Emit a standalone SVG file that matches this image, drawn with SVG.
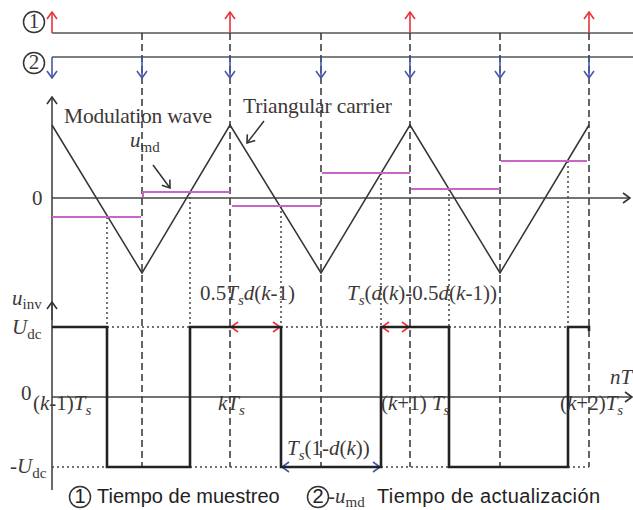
<svg xmlns="http://www.w3.org/2000/svg" width="633" height="510" viewBox="0 0 633 510">
<style>
.t{font-family:"Liberation Serif",serif;font-size:21px;fill:#3d3838}
.big{font-size:21.5px}
.i{font-style:italic}
.sub{font-size:15px}
.leg{font-family:"Liberation Sans",Arial,sans-serif;font-size:20px;fill:#222}
.ax{stroke:#444;stroke-width:1.6;fill:none}
.tl{stroke:#555;stroke-width:1.6;fill:none}
.dash{stroke:#333;stroke-width:1.5;stroke-dasharray:7,4;fill:none}
.dot{stroke:#444;stroke-width:1.5;stroke-dasharray:2,3;fill:none}
.tri{stroke:#333;stroke-width:1.5;fill:none}
.mod{stroke:#c865c8;stroke-width:2;fill:none}
.pwm{stroke:#222;stroke-width:2.6;fill:none}
.red{stroke:#e8333a;stroke-width:1.6;fill:none}
.blue{stroke:#4458a8;stroke-width:1.6;fill:none}
.circ{fill:none;stroke:#333;stroke-width:1.5}
</style>
<defs>
<marker id="mRed" viewBox="-1 -1 9 12" refX="7" refY="5" markerWidth="9" markerHeight="12" orient="auto-start-reverse" markerUnits="userSpaceOnUse"><path d="M0,0 L7,5 L0,10" fill="none" stroke="#e8333a" stroke-width="1.6"/></marker>
<marker id="mBlue" viewBox="-1 -1 9 12" refX="7" refY="5" markerWidth="9" markerHeight="12" orient="auto-start-reverse" markerUnits="userSpaceOnUse"><path d="M0,0 L7,5 L0,10" fill="none" stroke="#4458a8" stroke-width="1.6"/></marker>
<marker id="mBlack" viewBox="-1 -1 9 12" refX="7" refY="5" markerWidth="9" markerHeight="12" orient="auto-start-reverse" markerUnits="userSpaceOnUse"><path d="M0,0 L7,5 L0,10" fill="none" stroke="#333" stroke-width="1.6"/></marker>
</defs>
<rect width="633" height="510" fill="#fff"/>

<g id="timelines">
<line class="tl" x1="52" y1="33" x2="633" y2="33"/>
<line class="tl" x1="52" y1="57" x2="633" y2="57"/>
<g id="label-1"><circle class="circ" cx="34" cy="22" r="10.5"/><text class="t" x="34" y="28" text-anchor="middle" font-size="16">1</text></g>
<g id="label-2"><circle class="circ" cx="34" cy="63" r="10.5"/><text class="t" x="34" y="69" text-anchor="middle" font-size="16">2</text></g>
</g>

<g id="connectors">
<line class="dash" x1="142" y1="33" x2="142" y2="467"/>
<line class="dash" x1="230" y1="33" x2="230" y2="467"/>
<line class="dash" x1="321" y1="33" x2="321" y2="467"/>
<line class="dash" x1="410" y1="33" x2="410" y2="467"/>
<line class="dash" x1="500" y1="33" x2="500" y2="467"/>
<line class="dash" x1="589" y1="33" x2="589" y2="467"/>
<line class="red" x1="52" y1="33" x2="52" y2="12" marker-end="url(#mRed)"/>
<line class="red" x1="230" y1="33" x2="230" y2="12" marker-end="url(#mRed)"/>
<line class="red" x1="410" y1="33" x2="410" y2="12" marker-end="url(#mRed)"/>
<line class="red" x1="589" y1="33" x2="589" y2="12" marker-end="url(#mRed)"/>
<line class="blue" x1="52" y1="57" x2="52" y2="78" marker-end="url(#mBlue)"/>
<line class="blue" x1="142" y1="57" x2="142" y2="78" marker-end="url(#mBlue)"/>
<line class="blue" x1="230" y1="57" x2="230" y2="78" marker-end="url(#mBlue)"/>
<line class="blue" x1="321" y1="57" x2="321" y2="78" marker-end="url(#mBlue)"/>
<line class="blue" x1="410" y1="57" x2="410" y2="78" marker-end="url(#mBlue)"/>
<line class="blue" x1="500" y1="57" x2="500" y2="78" marker-end="url(#mBlue)"/>
<line class="blue" x1="589" y1="57" x2="589" y2="78" marker-end="url(#mBlue)"/>
<line class="ax" x1="52" y1="490" x2="52" y2="97" marker-end="url(#mBlack)"/>
<line class="ax" x1="52" y1="320" x2="52" y2="302" marker-end="url(#mBlack)"/>
<line class="ax" x1="52" y1="198" x2="630" y2="198" marker-end="url(#mBlack)"/>
<line class="ax" x1="52" y1="397" x2="632" y2="397" marker-end="url(#mBlack)"/>
<line class="dot" x1="107" y1="217" x2="107" y2="327"/>
<line class="dot" x1="190" y1="192" x2="190" y2="327"/>
<line class="dot" x1="281" y1="206" x2="281" y2="327"/>
<line class="dot" x1="381" y1="173" x2="381" y2="327"/>
<line class="dot" x1="449" y1="189" x2="449" y2="327"/>
<line class="dot" x1="568" y1="161" x2="568" y2="327"/>
<line class="dot" x1="107" y1="327" x2="190" y2="327"/>
<line class="dot" x1="281" y1="327" x2="381" y2="327"/>
<line class="dot" x1="449" y1="327" x2="568" y2="327"/>
<line class="dot" x1="52" y1="467" x2="107" y2="467"/>
<line class="dot" x1="190" y1="467" x2="281" y2="467"/>
<line class="dot" x1="381" y1="467" x2="449" y2="467"/>
<line class="dot" x1="568" y1="467" x2="589" y2="467"/>
<line class="tri" x1="264" y1="121" x2="247" y2="143" marker-end="url(#mBlack)"/>
<line class="tri" x1="153" y1="165" x2="170" y2="188" marker-end="url(#mBlack)"/>
<line class="red" x1="231" y1="327" x2="280" y2="327" marker-start="url(#mRed)" marker-end="url(#mRed)"/>
<line class="red" x1="382" y1="327" x2="409" y2="327" marker-start="url(#mRed)" marker-end="url(#mRed)"/>
<line class="blue" x1="282" y1="467" x2="380" y2="467" marker-start="url(#mBlue)" marker-end="url(#mBlue)"/>
</g>

<g id="carrier">
<polyline class="tri" points="52,125 142,273 230,125 321,273 410,125 500,273 589,125"/>
</g>

<g id="modulation">
<line class="mod" x1="52" y1="217" x2="141" y2="217"/>
<polyline class="mod" points="143,197 143,192 230,192"/>
<line class="mod" x1="232" y1="206" x2="321" y2="206"/>
<line class="mod" x1="322" y1="173" x2="410" y2="173"/>
<line class="mod" x1="411" y1="189" x2="500" y2="189"/>
<line class="mod" x1="501" y1="161" x2="587" y2="161"/>
</g>

<g id="pwm">
<path class="pwm" d="M52,327 H107 V467 H190 V327 H281 V467 H381 V327 H449 V467 H568 V327 H589 V331"/>
</g>

<g id="labels">
<text class="t big" x="64" y="123" textLength="148">Modulation wave</text>
<text class="t big" x="243" y="113" textLength="149">Triangular carrier</text>
<text class="t" x="130" y="147"><tspan class="i">u</tspan><tspan class="sub" dy="5">md</tspan></text>
<text class="t" x="32" y="205" fill="#a86a2e" font-size="18">0</text>
<text class="t" x="12" y="305"><tspan class="i">u</tspan><tspan class="sub" dy="4">inv</tspan></text>
<text class="t" x="12" y="334"><tspan class="i">U</tspan><tspan class="sub" dy="5">dc</tspan></text>
<text class="t" x="21" y="400" font-size="17">0</text>
<text class="t" x="10" y="473">-<tspan class="i">U</tspan><tspan class="sub" dy="5">dc</tspan></text>
<text class="t" x="33" y="410">(<tspan class="i">k</tspan>-1)<tspan class="i">T</tspan><tspan class="sub i" dy="5">s</tspan></text>
<text class="t" x="218" y="410"><tspan class="i">kT</tspan><tspan class="sub i" dy="5">s</tspan></text>
<text class="t" x="381" y="410">(<tspan class="i">k</tspan>+1)<tspan class="i"> T</tspan><tspan class="sub i" dy="5">s</tspan></text>
<text class="t" x="560" y="410">(<tspan class="i">k</tspan>+2)<tspan class="i">T</tspan><tspan class="sub i" dy="5">s</tspan></text>
<text class="t i" x="610" y="384">nT</text>
<text class="t" x="200" y="300">0.5<tspan class="i">T</tspan><tspan class="sub i" dy="5">s</tspan><tspan class="i" dy="-5">d</tspan>(<tspan class="i">k</tspan>-1)</text>
<text class="t" x="347" y="300"><tspan class="i">T</tspan><tspan class="sub i" dy="5">s</tspan><tspan dy="-5">(</tspan><tspan class="i">d</tspan>(<tspan class="i">k</tspan>)-0.5<tspan class="i">d</tspan>(<tspan class="i">k</tspan>-1))</text>
<text class="t" x="287" y="455"><tspan class="i">T</tspan><tspan class="sub i" dy="5">s</tspan><tspan dy="-5">(1-</tspan><tspan class="i">d</tspan>(<tspan class="i">k</tspan>))</text>
</g>

<g id="legend">
<circle class="circ" cx="80" cy="497" r="10.5"/>
<text class="leg" x="80" y="503" text-anchor="middle" font-size="16">1</text>
<text class="leg" x="97" y="503">Tiempo de muestreo</text>
<circle class="circ" cx="318" cy="497" r="10.5"/>
<text class="leg" x="318" y="503" text-anchor="middle" font-size="16">2</text>
<text class="t" x="328" y="503">-<tspan class="i">u</tspan><tspan class="sub" dy="4">md</tspan></text>
<text class="leg" x="377" y="503" textLength="223">Tiempo de actualización</text>
</g>
</svg>
